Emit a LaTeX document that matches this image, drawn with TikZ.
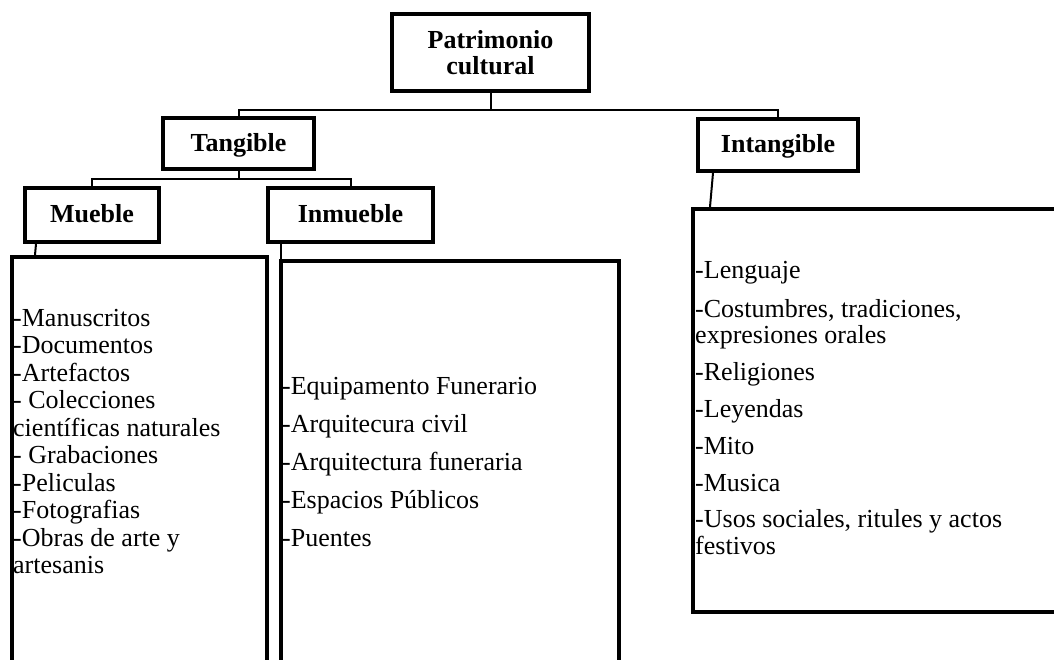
\documentclass[tikz,border=0pt]{standalone}
\usepackage{fontspec}
\setmainfont{Liberation Serif}
\usetikzlibrary{calc}
\begin{document}
\begin{tikzpicture}[x=1pt,y=-1pt,
  tbox/.style={draw,line width=4pt,inner sep=0pt},
  hbox/.style={tbox,font=\bfseries\fontsize{26}{26}\selectfont,text height=17pt,text depth=1pt},
  bigbox/.style={draw,line width=4pt,inner sep=0pt},
  link/.style={line width=2pt},
  item/.style={anchor=base west,inner sep=0pt,font=\fontsize{26}{27.5}\selectfont}]
\clip (0,0) rectangle (1054,660);
% heading boxes
\node[tbox,align=center,minimum width=197pt,minimum height=77pt,
      font=\bfseries\fontsize{26}{25.5}\selectfont] (patr) at (490.5,52.5) {Patrimonio\\cultural};
\node[hbox,minimum width=151pt,minimum height=51pt] (tang) at (238.5,143.5) {Tangible};
\node[hbox,minimum width=160pt,minimum height=52pt] (intang) at (778,145) {Intangible};
\node[hbox,minimum width=134pt,minimum height=54pt] (mueb) at (92,215) {Mueble};
\node[hbox,minimum width=165pt,minimum height=54pt] (inm) at (350.5,215) {Inmueble};
% big boxes
\node[bigbox,minimum width=255pt,minimum height=443pt] (mbig) at (139.5,478.5) {};
\node[bigbox,minimum width=338pt,minimum height=439pt] (ibig) at (450,480.5) {};
\node[bigbox,minimum width=377pt,minimum height=403pt] (tbig) at (881.5,410.5) {};
% connectors
\draw[link] (patr.south) -- ++(0,17) -| (tang.north);
\draw[link] (patr.south) -- ++(0,17) -| (intang.north);
\draw[link] (tang.south) -- ++(0,8) -| (mueb.north);
\draw[link] (tang.south) -- ++(0,8) -| (inm.north);
\draw[link] ($(mueb.south west)+(13,0)$) -- ($(mbig.north west)+(25,0)$);
\draw[link] ($(inm.south west)+(15,0)$) -- ($(ibig.north west)+(2,0)$);
\draw[link] ($(intang.south west)+(17,0)$) -- ($(tbig.north west)+(19,0)$);
% lists
\foreach \y/\t [count=\i] in {326/{-Manuscritos},353.5/{-Documentos},381/{-Artefactos},
  408.5/{- Colecciones},436/{científicas naturales},463.5/{- Grabaciones},
  491/{-Peliculas},518.5/{-Fotografias},546/{-Obras de arte y},573.5/{artesanis}}
  \node[item] (m\i) at (13,\y) {\t};
\foreach \y/\t [count=\i] in {394/{-Equipamento Funerario},432/{-Arquitecura civil},
  470/{-Arquitectura funeraria},508/{-Espacios Públicos},546/{-Puentes}}
  \node[item] (n\i) at (282,\y) {\t};
\foreach \y/\t [count=\i] in {279/{-Lenguaje},317/{-Costumbres, tradiciones,},
  343/{expresiones orales},380/{-Religiones},417/{-Leyendas},454/{-Mito},
  491/{-Musica},527/{-Usos sociales, ritules y actos},554/{festivos}}
  \node[item] (t\i) at (695,\y) {\t};
\end{tikzpicture}
\end{document}
